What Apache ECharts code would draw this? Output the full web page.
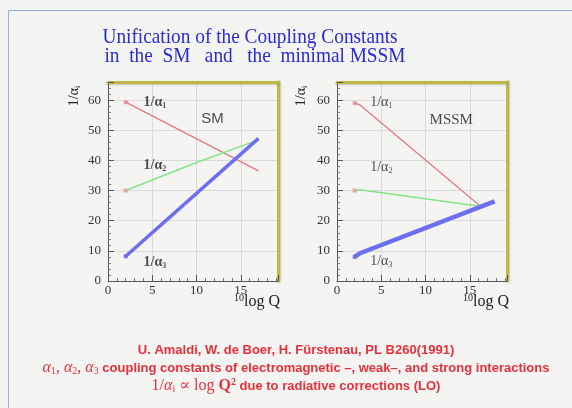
<!DOCTYPE html>
<html>
<head>
<meta charset="utf-8">
<script src="https://cdn.jsdelivr.net/npm/echarts@6/dist/echarts.min.js"></script>
<style>
  html, body { margin: 0; padding: 0; background: #f4f4f3; }
  #chart { width: 572px; height: 408px; }
</style>
</head>
<body>
<div id="chart"></div>
<script>
// readings: x = 10log Q, y = 1/alpha_i
const smQ1 = [2, 17];
const smInv1 = [59.3, 36.5];
const smQ2 = [2, 10, 17];
const smInv2 = [30, 39.3, 46.8];
const smQ3 = [2, 17];
const smInv3 = [8.2, 47.3];

const mssmQ1 = [2, 2.6, 16.1];
const mssmInv1 = [59, 58.4, 25];
const mssmQ2 = [2, 2.6, 16.1];
const mssmInv2 = [30, 30.3, 24.8];
const mssmQ3 = [2, 2.6, 17.8];
const mssmInv3 = [8, 9.2, 26.4];

const xTicks = [0, 5, 10, 15];
const yTicks = [0, 10, 20, 30, 40, 50, 60];

// annotation positions (data coords)
const smNotes = [[5.3, 59.3, '1'], [5.3, 38.3, '2'], [5.3, 6.3, '3']];
const mssmNotes = [[5.0, 59.3, '1'], [5.0, 37.7, '2'], [5.0, 6.6, '3']];

const RED = '#e47a80', GREEN = '#86e486', BLUE = '#6e6ef0', FRAME = '#bfb845';
const serif = '"Liberation Serif", "DejaVu Serif", serif';
const sans = '"Liberation Sans", Arial, sans-serif';

const zip = (a, b) => a.map((v, i) => [v, b[i]]);

const grids = [
  { left: 108, right: 294, top: 82, bottom: 127 },
  { left: 337, right: 65, top: 82, bottom: 127 },
];

function xAxes(g) {
  return [
    {
      type: 'value', gridIndex: g, position: 'bottom', min: 0, max: 19.2, interval: 5,
      axisLine: { onZero: false, lineStyle: { color: '#555', width: 1 } },
      axisTick: { inside: true, length: 6, lineStyle: { color: '#555' } },
      minorTick: { show: true, splitNumber: 5, length: 3, lineStyle: { color: '#777' } },
      axisLabel: {
        margin: 3, fontFamily: serif, fontSize: 13, color: '#333', showMaxLabel: false,
        formatter: v => (xTicks.includes(v) ? String(v) : ''),
      },
      splitLine: { show: true, lineStyle: { color: '#dadada' } },
    },
    {
      type: 'value', gridIndex: g, position: 'top', min: 0, max: 19.2,
      axisLine: { onZero: false, lineStyle: { color: FRAME, width: 3, shadowColor: 'rgba(0,0,0,0.2)', shadowBlur: 2, shadowOffsetY: 1 } },
      axisTick: { show: false }, axisLabel: { show: false }, splitLine: { show: false },
    },
  ];
}

function yAxes(g) {
  return [
    {
      type: 'value', gridIndex: g, position: 'left', min: 0, max: 66, interval: 10,
      axisLine: { show: true, onZero: false, lineStyle: { color: '#555', width: 1 } },
      axisTick: { show: true, inside: true, length: 6, lineStyle: { color: '#555' } },
      minorTick: { show: true, splitNumber: 5, length: 3, lineStyle: { color: '#777' } },
      axisLabel: {
        margin: 7, fontFamily: serif, fontSize: 13, color: '#333', showMaxLabel: false,
        formatter: v => (yTicks.includes(v) ? String(v) : ''),
      },
      splitLine: { show: true, lineStyle: { color: '#dadada' } },
    },
    {
      type: 'value', gridIndex: g, position: 'right', min: 0, max: 66,
      axisLine: { show: true, onZero: false, lineStyle: { color: FRAME, width: 3, shadowColor: 'rgba(0,0,0,0.2)', shadowBlur: 2, shadowOffsetX: 1 } },
      axisTick: { show: false }, axisLabel: { show: false }, splitLine: { show: false },
    },
  ];
}

function line(ax, q, v, color, width) {
  return {
    type: 'line', xAxisIndex: ax, yAxisIndex: ax, data: zip(q, v),
    symbol: 'none', silent: true,
    lineStyle: { color: color, width: width },
  };
}

function starts(ax, pts) {
  return {
    type: 'scatter', xAxisIndex: ax, yAxisIndex: ax, silent: true,
    symbol: 'rect', symbolSize: 4,
    data: pts.map(p => ({ value: [p[0], p[1]], itemStyle: { color: p[2] } })),
  };
}

function notes(ax, list, weight) {
  return {
    type: 'scatter', xAxisIndex: ax, yAxisIndex: ax, silent: true,
    symbolSize: 0, itemStyle: { color: 'transparent' },
    data: list,
    label: {
      show: true, position: 'inside', color: '#222',
      formatter: p => '{n|1/α}{s|' + p.data[2] + '}',
      rich: {
        n: { fontFamily: serif, fontSize: 14, fontWeight: weight, color: '#222' },
        s: { fontFamily: serif, fontSize: 8, fontWeight: weight, color: '#222', padding: [7, 0, 0, 0] },
      },
    },
  };
}

function tag(ax, x, y, text, family) {
  return {
    type: 'scatter', xAxisIndex: ax, yAxisIndex: ax, silent: true,
    symbolSize: 0, itemStyle: { color: 'transparent' },
    data: [[x, y]],
    label: { show: true, position: 'inside', formatter: text, fontFamily: family, fontSize: 15, color: '#222' },
  };
}

function yName(cx, cy) {
  return {
    type: 'text', x: cx, y: cy, rotation: Math.PI / 2,
    style: {
      text: '{n|1/α}{s|i}', align: 'center', verticalAlign: 'middle',
      rich: {
        n: { fontFamily: serif, fontSize: 14, fill: '#222' },
        s: { fontFamily: serif, fontSize: 8, fill: '#222', padding: [7, 0, 0, 0] },
      },
    },
  };
}

function xName(cx, cy) {
  return {
    type: 'text', x: cx, y: cy,
    style: {
      text: '{p|10}{n|log Q}', align: 'center', verticalAlign: 'middle',
      rich: {
        p: { fontFamily: serif, fontSize: 10, fill: '#222', padding: [0, 0, 8, 0] },
        n: { fontFamily: serif, fontSize: 16, fill: '#222' },
      },
    },
  };
}

function redLine(y, text) {
  return {
    type: 'text', x: 296, y: y,
    style: { text: text, align: 'center', verticalAlign: 'middle', rich: redRich },
  };
}

const redRich = {
  b: { fontFamily: sans, fontWeight: 'bold', fontSize: 13, fill: '#e8303a' },
  m: { fontFamily: serif, fontStyle: 'italic', fontSize: 16, fill: '#e8303a' },
  ms: { fontFamily: serif, fontSize: 10, fill: '#e8303a', padding: [7, 0, 0, 0] },
  mr: { fontFamily: serif, fontSize: 16, fill: '#e8303a' },
  sup: { fontFamily: serif, fontWeight: 'bold', fontSize: 10, fill: '#e8303a', padding: [0, 0, 8, 0] },
  q: { fontFamily: serif, fontWeight: 'bold', fontSize: 16, fill: '#e8303a' },
};

const option = {
  backgroundColor: '#f4f4f3',
  animation: false,
  grid: grids,
  xAxis: [...xAxes(0), ...xAxes(1)],
  yAxis: [...yAxes(0), ...yAxes(1)],
  series: [
    line(0, smQ1, smInv1, RED, 1.3),
    line(0, smQ2, smInv2, GREEN, 1.5),
    line(0, smQ3, smInv3, BLUE, 3.5),
    starts(0, [[smQ1[0], smInv1[0], '#e48a9a'], [smQ2[0], smInv2[0], '#e48a9a'], [smQ3[0], smInv3[0], '#5a5ae8']]),
    notes(0, smNotes, 'bold'),
    tag(0, 11.8, 53.9, 'SM', sans),
    line(2, mssmQ1, mssmInv1, RED, 1.3),
    line(2, mssmQ2, mssmInv2, GREEN, 1.5),
    line(2, mssmQ3, mssmInv3, BLUE, 4.5),
    starts(2, [[mssmQ1[0], mssmInv1[0], '#e48a9a'], [mssmQ2[0], mssmInv2[0], '#e48a9a'], [mssmQ3[0], mssmInv3[0], '#5a5ae8']]),
    notes(2, mssmNotes, 'normal'),
    tag(2, 12.9, 53.4, 'MSSM', serif),
  ],
  graphic: [
    {
      type: 'rect', silent: true, z: -1,
      shape: { x: 8.5, y: 10.5, width: 600, height: 420 },
      style: { fill: 'none', stroke: '#8fb0da', lineWidth: 1 },
    },
    {
      type: 'text', x: 250, y: 37, scaleX: 0.92,
      style: { text: 'Unification of the Coupling Constants', align: 'center', verticalAlign: 'middle', fontFamily: serif, fontSize: 21, fill: '#2b2bd6' },
    },
    {
      type: 'text', x: 255, y: 56, scaleX: 0.92,
      style: { text: 'in  the  SM   and   the  minimal MSSM', align: 'center', verticalAlign: 'middle', fontFamily: serif, fontSize: 21, fill: '#2b2bd6' },
    },
    yName(74, 96),
    yName(301, 96),
    xName(257, 302),
    xName(486, 302),
    redLine(350, '{b|U. Amaldi, W. de Boer, H. Fürstenau, PL B260(1991)}'),
    redLine(368, '{m|α}{ms|1}{mr|, }{m|α}{ms|2}{mr|, }{m|α}{ms|3}{b| coupling constants of electromagnetic –, weak–, and strong interactions}'),
    redLine(386, '{mr|1/}{m|α}{ms|i}{mr| ∝ log }{q|Q}{sup|2}{b| due to radiative corrections (LO)}'),
  ],
};

const chart = echarts.init(document.getElementById('chart'));
chart.setOption(option);
</script>
</body>
</html>
